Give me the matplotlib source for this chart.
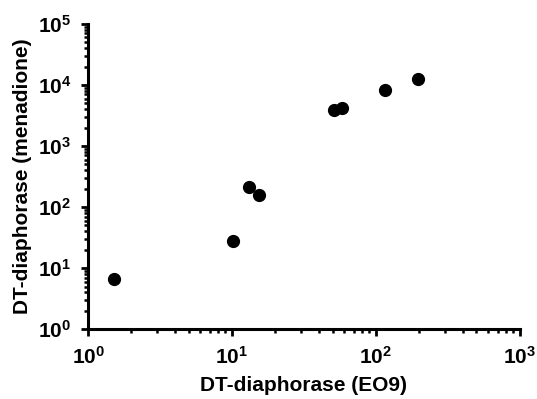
import numpy as np
import matplotlib.pyplot as plt
from matplotlib.ticker import LogLocator, FuncFormatter

plt.rcParams['font.family'] = ['Liberation Sans', 'DejaVu Sans']
plt.rcParams['mathtext.fontset'] = 'custom'
plt.rcParams['mathtext.rm'] = 'Liberation Sans'
plt.rcParams['mathtext.bf'] = 'Liberation Sans:bold'

# DT-diaphorase activity: EO9 vs menadione
eo9 = [1.52, 10.2, 13.1, 15.4, 51, 58, 115, 196]
menadione = [6.7, 28, 213, 160, 3900, 4250, 8300, 12500]

fig = plt.figure(figsize=(5.37, 3.99), dpi=100, facecolor='white')
ax = fig.add_axes([0.164, 0.175, 0.804, 0.765])

ax.plot(eo9, menadione, 'o', color='black', markersize=8.5, clip_on=False)

ax.set_xscale('log')
ax.set_yscale('log')
ax.set_xlim(1, 1000)
ax.set_ylim(1, 1e5)

for s in ['top', 'right']:
    ax.spines[s].set_visible(False)
for s in ['left', 'bottom']:
    ax.spines[s].set_linewidth(2.2)

ax.xaxis.set_major_locator(LogLocator(base=10, numticks=10))
ax.yaxis.set_major_locator(LogLocator(base=10, numticks=10))
ax.xaxis.set_minor_locator(LogLocator(base=10, subs=np.arange(2, 10), numticks=20))
ax.yaxis.set_minor_locator(LogLocator(base=10, subs=np.arange(2, 10), numticks=20))
fmt = FuncFormatter(lambda v, p: r'$\mathbf{10^{%d}}$' % int(round(np.log10(v))))
ax.xaxis.set_major_formatter(fmt)
ax.yaxis.set_major_formatter(fmt)

ax.tick_params(which='major', direction='out', length=5, width=2, labelsize=15, pad=7)
ax.tick_params(which='minor', direction='out', length=3, width=1.8)

ax.set_xlabel('DT-diaphorase (EO9)', fontsize=15, fontweight='bold', labelpad=6)
ax.set_ylabel('DT-diaphorase (menadione)', fontsize=15, fontweight='bold', labelpad=4)

fig.savefig('out.png', dpi=100, facecolor='white')
